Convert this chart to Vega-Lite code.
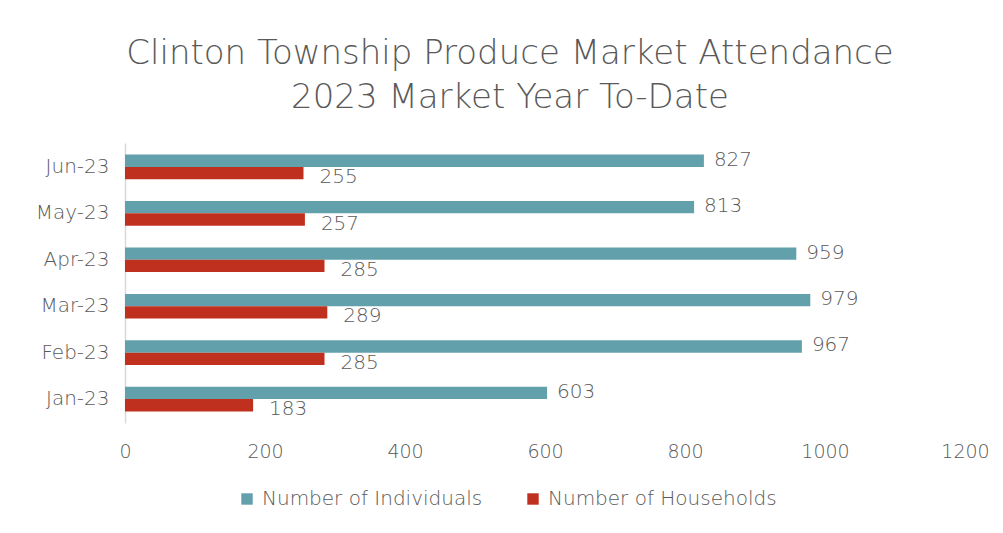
{
  "$schema": "https://vega.github.io/schema/vega-lite/v6.json",
  "width": 840,
  "height": 280,
  "autosize": {"type": "none"},
  "padding": {"left": 125, "top": 143, "right": 38, "bottom": 110},
  "background": "white",
  "title": {
    "text": ["Clinton Township Produce Market Attendance", "2023 Market Year To-Date"],
    "fontSize": 34,
    "font": "DejaVu Sans",
    "fontWeight": 200,
    "color": "#595959",
    "anchor": "middle",
    "dx": -35,
    "offset": 28,
    "lineHeight": 44
  },
  "data": {
    "values": [
      {"month": "Jan-23", "series": "Number of Individuals", "value": 603},
      {"month": "Jan-23", "series": "Number of Households", "value": 183},
      {"month": "Feb-23", "series": "Number of Individuals", "value": 967},
      {"month": "Feb-23", "series": "Number of Households", "value": 285},
      {"month": "Mar-23", "series": "Number of Individuals", "value": 979},
      {"month": "Mar-23", "series": "Number of Households", "value": 289},
      {"month": "Apr-23", "series": "Number of Individuals", "value": 959},
      {"month": "Apr-23", "series": "Number of Households", "value": 285},
      {"month": "May-23", "series": "Number of Individuals", "value": 813},
      {"month": "May-23", "series": "Number of Households", "value": 257},
      {"month": "Jun-23", "series": "Number of Individuals", "value": 827},
      {"month": "Jun-23", "series": "Number of Households", "value": 255}
    ]
  },
  "encoding": {
    "y": {
      "field": "month",
      "type": "nominal",
      "sort": ["Jun-23", "May-23", "Apr-23", "Mar-23", "Feb-23", "Jan-23"],
      "scale": {"paddingInner": 0.47, "paddingOuter": 0.25},
      "axis": {
        "title": null,
        "ticks": false,
        "domainColor": "#d9d9d9",
        "domainWidth": 1.5,
        "labelFont": "DejaVu Sans",
        "labelFontWeight": 200,
        "labelFontSize": 20,
        "labelColor": "#595959",
        "labelPadding": 16
      }
    },
    "yOffset": {
      "field": "series",
      "type": "nominal",
      "sort": ["Number of Individuals", "Number of Households"]
    },
    "x": {
      "field": "value",
      "type": "quantitative",
      "scale": {"domain": [0, 1200], "nice": false},
      "axis": {
        "title": null,
        "values": [0, 200, 400, 600, 800, 1000, 1200],
        "format": "d",
        "grid": false,
        "domain": false,
        "ticks": false,
        "labelFont": "DejaVu Sans",
        "labelFontWeight": 200,
        "labelFontSize": 19,
        "labelColor": "#595959",
        "labelPadding": 19,
        "labelFlush": false
      }
    }
  },
  "layer": [
    {
      "mark": {"type": "bar"},
      "encoding": {
        "color": {
          "field": "series",
          "type": "nominal",
          "scale": {
            "domain": ["Number of Individuals", "Number of Households"],
            "range": ["#62A0AC", "#C0301E"]
          },
          "legend": {
            "title": null,
            "orient": "none",
            "direction": "horizontal",
            "legendX": 112,
            "legendY": 346,
            "symbolType": "square",
            "symbolSize": 130,
            "symbolStrokeWidth": 0,
            "labelFont": "DejaVu Sans",
            "labelFontWeight": 200,
            "labelFontSize": 20,
            "labelColor": "#595959",
            "labelOffset": 5,
            "labelLimit": 400,
            "columnPadding": 40
          }
        }
      }
    },
    {
      "transform": [{"filter": "datum.series === 'Number of Individuals'"}],
      "mark": {"type": "text", "align": "left", "baseline": "middle", "dx": 10, "dy": -1, "font": "DejaVu Sans", "fontWeight": 200, "fontSize": 20, "color": "#595959"},
      "encoding": {"text": {"field": "value", "type": "quantitative", "format": "d"}}
    },
    {
      "transform": [{"filter": "datum.series === 'Number of Households'"}],
      "mark": {"type": "text", "align": "left", "baseline": "middle", "dx": 16, "dy": 4, "font": "DejaVu Sans", "fontWeight": 200, "fontSize": 20, "color": "#595959"},
      "encoding": {"text": {"field": "value", "type": "quantitative", "format": "d"}}
    }
  ],
  "config": {"view": {"stroke": null}}
}
